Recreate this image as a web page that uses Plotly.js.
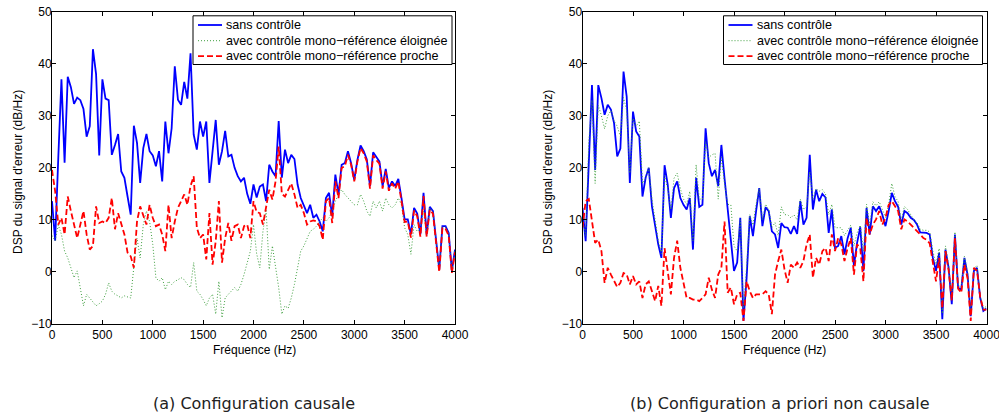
<!DOCTYPE html>
<html>
<head>
<meta charset="utf-8">
<script src="https://cdn.plot.ly/plotly-3.0.1.min.js"></script>
<style>html,body{margin:0;padding:0;background:#fff;}#chart{width:999px;height:419px;}</style>
</head>
<body>
<div id="chart"></div>
<script>
// Frequency grid (Hz)
const freq = [0,31.25,62.5,93.75,125,156.25,187.5,218.75,250,281.25,312.5,343.75,375,406.25,437.5,468.75,500,531.25,562.5,593.75,625,656.25,687.5,718.75,750,781.25,812.5,843.75,875,906.25,937.5,968.75,1000,1031.25,1062.5,1093.75,1125,1156.25,1187.5,1218.75,1250,1281.25,1312.5,1343.75,1375,1406.25,1437.5,1468.75,1500,1531.25,1562.5,1593.75,1625,1656.25,1687.5,1718.75,1750,1781.25,1812.5,1843.75,1875,1906.25,1937.5,1968.75,2000,2031.25,2062.5,2093.75,2125,2156.25,2187.5,2218.75,2250,2281.25,2312.5,2343.75,2375,2406.25,2437.5,2468.75,2500,2531.25,2562.5,2593.75,2625,2656.25,2687.5,2718.75,2750,2781.25,2812.5,2843.75,2875,2906.25,2937.5,2968.75,3000,3031.25,3062.5,3093.75,3125,3156.25,3187.5,3218.75,3250,3281.25,3312.5,3343.75,3375,3406.25,3437.5,3468.75,3500,3531.25,3562.5,3593.75,3625,3656.25,3687.5,3718.75,3750,3781.25,3812.5,3843.75,3875,3906.25,3937.5,3968.75,4000];

// (a) Configuration causale
const aSans = [13.6,6.0,22.0,37.0,21.0,37.5,35.5,32.3,33.5,33.0,
 31.3,26.0,28.0,42.8,38.0,22.4,37.0,33.3,33.0,22.5,
 24.4,26.5,19.3,18.1,14.5,11.0,28.1,24.8,17.1,23.8,
 26.5,23.2,22.4,20.3,23.2,17.4,28.9,22.8,27.6,39.5,
 33.1,32.1,36.5,33.3,42.0,26.4,23.5,28.9,26.0,28.9,
 17.1,23.8,29.2,20.6,23.2,27.1,22.2,22.5,20.0,18.4,
 17.4,18.1,15.0,13.1,16.8,14.3,16.4,16.8,13.6,20.6,
 19.3,18.4,29.0,18.1,23.5,20.9,22.5,21.7,16.8,14.2,
 12.9,11.3,12.9,10.4,11.0,9.7,7.8,14.2,15.2,10.7,
 18.7,14.9,20.6,20.9,23.2,20.9,17.7,21.5,24.3,23.2,
 21.6,16.5,23.0,22.0,21.2,16.5,19.8,16.1,17.4,16.5,
 17.9,14.2,10.1,10.1,7.2,12.3,11.2,7.2,15.2,7.2,
 12.5,11.7,6.5,0.5,8.8,8.8,7.5,0.2,4.3];
const aEloignee = [7.0,6.0,9.0,7.2,4.0,2.7,0.8,-1.1,0.2,-3.0,
 -6.5,-4.3,-5.0,-5.9,-6.5,-6.1,-5.6,-4.3,-2.1,-3.7,
 -4.3,-4.6,-5.0,-4.6,-4.8,-5.0,1.0,6.5,2.7,9.1,
 11.7,9.7,5.3,-1.1,-1.8,-1.1,-3.4,-1.8,-2.4,-1.8,
 -1.5,-1.1,-1.5,-2.4,-3.0,1.8,-3.7,-4.3,-5.3,-6.5,
 -5.0,-4.3,-8.1,-1.8,-8.8,-5.0,-4.3,-3.7,-3.0,-3.7,
 -2.4,-0.5,2.0,4.0,9.1,3.5,0.8,7.8,12.0,0.5,
 5.0,1.0,-3.0,-8.1,-6.5,-7.0,-5.0,-2.4,0.8,4.0,
 5.0,6.5,7.8,8.2,8.8,9.7,10.4,9.7,10.4,11.7,
 13.6,14.9,15.8,14.9,14.2,13.6,12.9,12.9,14.9,13.6,
 11.7,10.7,13.6,12.3,13.6,11.7,14.2,12.9,12.3,12.9,
 14.2,12.9,8.5,7.2,3.4,9.1,7.8,8.2,11.7,7.0,
 12.3,11.5,6.3,0.3,8.6,8.6,7.3,0.0,4.1];
const aProche = [19.6,15.5,9.1,10.4,7.2,14.5,11.7,9.1,6.5,9.1,
 11.7,7.2,4.3,5.0,12.6,9.4,9.7,9.4,10.4,14.2,
 8.2,11.3,9.1,7.2,3.7,3.0,0.8,9.7,12.6,11.0,
 9.1,12.9,10.4,8.8,9.1,7.2,4.0,12.9,6.5,9.7,
 12.3,13.6,14.9,12.9,16.5,18.4,8.5,6.5,7.2,2.4,
 11.3,1.4,5.9,13.6,1.8,6.5,9.4,6.0,8.8,9.1,
 6.5,8.8,9.1,6.5,13.6,11.5,11.3,9.1,12.3,15.8,
 13.9,17.4,24.1,15.0,14.5,15.8,17.0,14.9,12.3,12.9,
 11.3,9.1,9.7,9.9,9.7,8.8,6.2,13.6,14.2,9.4,
 17.4,14.2,20.0,20.3,22.5,20.6,17.4,21.2,23.8,22.8,
 21.2,16.0,22.4,21.5,20.8,16.0,19.3,15.6,17.0,16.0,
 17.4,13.6,9.6,9.7,6.6,11.8,10.7,6.8,14.6,6.8,
 12.0,11.2,6.0,0.0,8.4,8.3,7.0,-0.2,3.8];

// (b) Configuration a priori non causale
const bSans = [12.3,5.9,21.0,35.9,19.6,35.9,33.4,30.2,32.1,31.2,
 28.6,22.2,23.7,38.5,33.7,17.1,30.8,27.0,26.0,14.5,
 18.1,20.0,12.6,9.1,5.3,2.7,20.5,16.8,10.4,16.1,
 17.4,14.2,12.9,12.0,14.2,4.3,18.1,12.5,12.9,27.6,
 20.9,18.4,19.6,16.5,24.4,18.0,12.3,7.2,0.2,1.8,
 10.4,-9.4,-1.1,10.7,6.9,11.7,16.1,8.8,12.4,11.7,
 7.8,7.2,4.6,9.4,8.6,8.5,7.3,8.8,7.3,13.6,
 9.1,10.4,22.5,12.0,15.8,13.6,15.0,14.3,7.5,12.0,
 4.6,5.0,6.9,3.4,6.5,8.5,1.2,5.6,8.6,0.2,
 12.3,7.2,12.6,11.7,12.6,11.0,8.8,11.7,15.2,13.6,
 12.5,9.1,11.7,11.3,10.4,10.0,9.1,7.6,7.5,7.5,
 7.2,2.7,0.2,3.7,-9.1,4.3,0.8,-6.2,7.2,-3.0,
 -3.4,2.7,-0.5,-8.5,0.2,0.8,-5.0,-7.5,-7.0];
const bEloignee = [10,7,25,33,17,32,30,27.5,30,31,
 29,28,26,33.5,31,19,29.5,28,29,17,
 18,20,14,10,6,3.5,18.5,16,12,18,
 19,16,14,13,15.5,6,20.6,14,14,25,
 22,22.5,22.8,14,22,17,13,12.9,5,4,
 10,-7,1,11,9,13,16,10,13,12,
 8.5,9.5,7,12.5,11,11,10.4,11,10,14,
 12,12.5,19.3,14,16,15.5,15.8,15,11,13,
 8.5,8.5,8.5,7,8,9,5,7.5,9,4,
 13,9,13.5,12.7,13.5,12,10.5,13,17,14.5,
 13.5,10,12.6,12,11,10,9.5,8.2,8,8,
 7.7,4,1.5,4.5,-8,5,1.5,-5,7.7,-2.5,
 -3,3,0,-8,0.7,1.2,-4.5,-7,-6.6];
const bProche = [8.5,13.6,14.0,9.7,5.6,6.2,4.0,-2.1,0.8,-0.5,
 -1.8,-2.9,-2.1,-0.2,-0.5,-2.4,-0.8,-2.4,-1.8,-5.0,
 -2.4,-1.8,-3.7,-5.6,-2.7,-6.5,4.6,0.2,-4.3,2.7,
 6.0,0.8,-2.1,-5.0,-5.0,-5.3,-5.3,-5.6,-5.0,-4.3,
 -1.1,-3.4,-5.0,-0.5,0.8,9.7,-4.0,-3.0,-6.2,-4.3,
 -4.0,-9.4,-1.8,-3.7,-5.0,-4.3,-4.3,-4.3,-3.7,-4.3,
 -8.1,-0.5,2.1,4.3,0.5,-2.1,1.4,0.8,1.8,0.8,
 2.1,5.3,7.2,-1.1,2.7,1.4,4.0,4.6,2.1,7.2,
 4.0,6.5,5.3,2.1,4.6,6.5,-0.5,5.3,4.6,-1.8,
 10.4,7.2,9.1,10.1,11.7,9.1,10.4,12.9,13.6,12.6,
 11.7,8.2,10.1,9.7,9.1,8.5,7.8,7.2,6.5,6.2,
 5.5,1.5,-1.8,2.7,-7.0,4.0,0.3,-5.5,6.5,-3.2,
 -4.0,1.4,-1.2,-9.4,0.8,0.2,-4.8,-7.2,-7.3];

const seriesNames = ['sans contrôle','avec contrôle mono\u2212référence éloignée','avec contrôle mono\u2212référence proche'];
const xTitle = 'Fréquence (Hz)';
const yTitle = "DSP du signal d'erreur (dB/Hz)";
const captions = ['(a) Configuration causale','(b) Configuration a priori non causale'];

const W = 999, H = 419;
const styles = [
  {color:'#0000ff', width:1.8, dash:'solid'},
  {color:'#3f9f3f', width:1, dash:'1px,2px'},
  {color:'#ff0000', width:1.8, dash:'6px,3px'}
];
function mk(y, i, xa, ya){
  return {x: freq, y: y, type:'scatter', mode:'lines', name: seriesNames[i],
    xaxis: xa, yaxis: ya, showlegend:false, line: styles[i], hoverinfo:'skip'};
}
const data = [
  mk(aSans,0,'x','y'), mk(aEloignee,1,'x','y'), mk(aProche,2,'x','y'),
  mk(bSans,0,'x2','y2'), mk(bEloignee,1,'x2','y2'), mk(bProche,2,'x2','y2')
];
const tickFont = {family:'Liberation Sans, Arial, sans-serif', size:12, color:'#000'};
function xax(d, anchor){
  return {domain:d, anchor:anchor, range:[0,4000], dtick:500, tick0:0, ticks:'inside', ticklen:4,
    tickcolor:'#000', mirror:'ticks', showline:true, linecolor:'#000', linewidth:1,
    showgrid:false, zeroline:false, tickfont:tickFont, fixedrange:true,
    ticklabeloverflow:'allow', ticklabelstandoff:0};
}
function yax(anchor){
  return {domain:[1-324/H, 1-11.7/H], anchor:anchor, range:[-10,50], dtick:10, tick0:0, ticks:'inside', ticklen:4,
    tickcolor:'#000', mirror:'ticks', showline:true, linecolor:'#000', linewidth:1,
    showgrid:false, zeroline:false, tickfont:tickFont, fixedrange:true,
    ticklabeloverflow:'allow', ticklabelstandoff:-3};
}
const px = v => v / W, py = v => 1 - v / H;
const lblFont = {family:'Liberation Sans, Arial, sans-serif', size:12, color:'#000'};
const legFont = {family:'Liberation Sans, Arial, sans-serif', size:12.6, color:'#000'};
const capFont = {family:'DejaVu Sans, sans-serif', size:16, color:'#222'};
const annotations = [
  {text:xTitle, x:px(254), y:py(349.5)},
  {text:xTitle, x:px(784), y:py(349.5)},
  {text:yTitle, x:px(18), y:py(172), textangle:-90},
  {text:yTitle, x:px(548), y:py(172), textangle:-90}
].map(a => Object.assign({xref:'paper', yref:'paper', showarrow:false, font:lblFont, xanchor:'center', yanchor:'middle'}, a));
annotations.push(
  {text:captions[0], x:px(254), y:py(403), xref:'paper', yref:'paper', showarrow:false, font:capFont, xanchor:'center', yanchor:'middle'},
  {text:captions[1], x:px(780), y:py(403), xref:'paper', yref:'paper', showarrow:false, font:capFont, xanchor:'center', yanchor:'middle'}
);
// Legend boxes (drawn as in the original figure)
const shapes = [];
const rows = [25, 40.7, 56.2];
[[193, 452], [723.5, 982.5]].forEach(([l, r]) => {
  shapes.push({type:'rect', xref:'paper', yref:'paper', x0:px(l), x1:px(r), y0:py(64.5), y1:py(15.8),
    line:{color:'#000', width:1}, fillcolor:'#fff', layer:'above'});
  rows.forEach((ry, i) => {
    shapes.push({type:'line', xref:'paper', yref:'paper', x0:px(l+5), x1:px(l+29), y0:py(ry), y1:py(ry),
      line:{color:styles[i].color, width:styles[i].width, dash:styles[i].dash}, layer:'above'});
    annotations.push({text:seriesNames[i], x:px(l+31), y:py(ry), xref:'paper', yref:'paper', showarrow:false,
      font:legFont, xanchor:'left', yanchor:'middle'});
  });
});
const layout = {
  width:W, height:H, margin:{l:0,r:0,t:0,b:0}, paper_bgcolor:'#fff', plot_bgcolor:'#fff',
  showlegend:false,
  xaxis: xax([52/W, 455/W], 'y'), yaxis: yax('x'),
  xaxis2: xax([582.5/W, 986.5/W], 'y2'), yaxis2: yax('x2'),
  annotations: annotations, shapes: shapes
};
Plotly.newPlot('chart', data, layout, {staticPlot:true, displayModeBar:false});
</script>
</body>
</html>
